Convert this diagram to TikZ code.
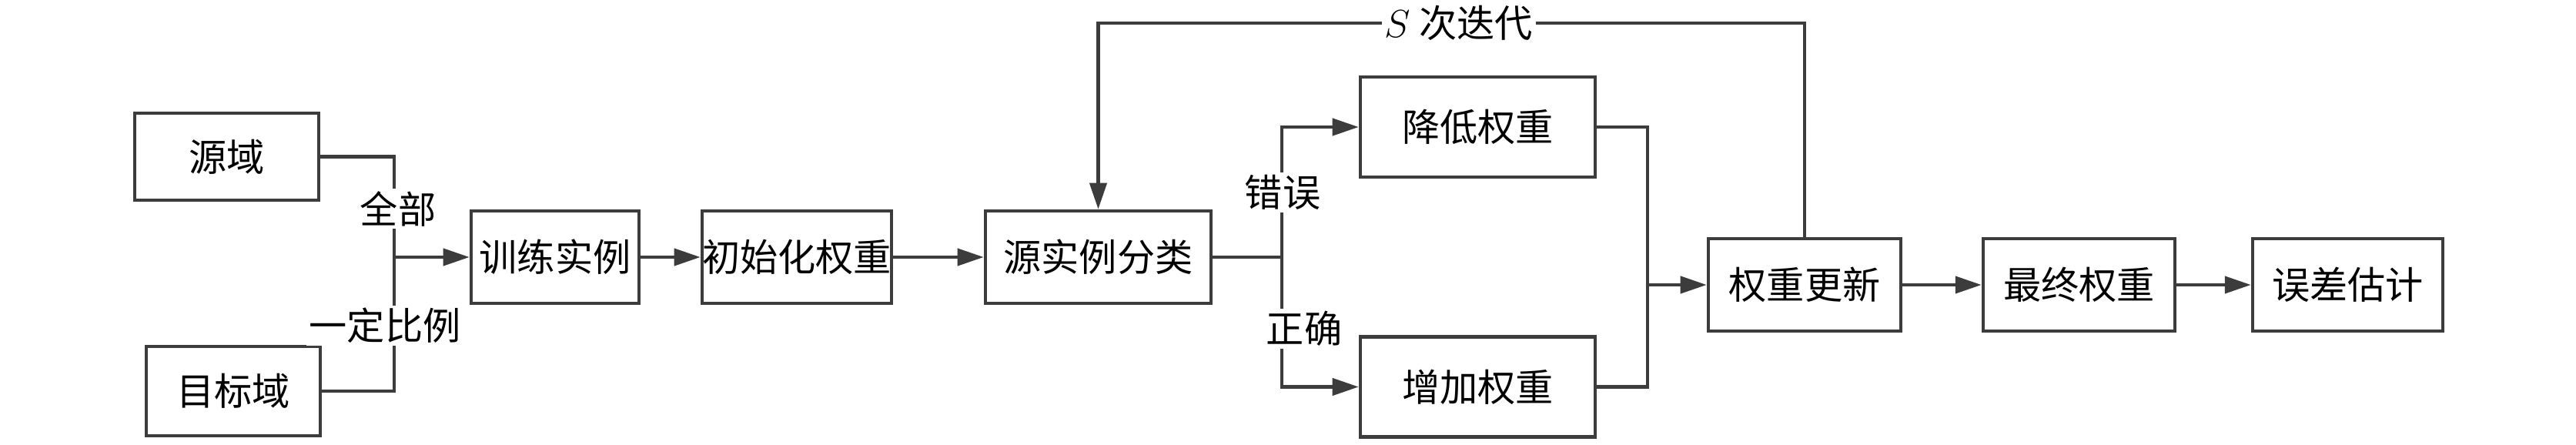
\documentclass[tikz,border=0pt]{standalone}
\usepackage{fontspec}
\newfontfamily\cjk{Noto Sans CJK SC}
\usetikzlibrary{arrows.meta}

\begin{document}
\begin{tikzpicture}[
  box/.style={draw=linegray, line width=1.3pt, minimum height=#1, inner sep=0pt, font=\cjk\fontsize{14}{16}\selectfont},
  box/.default=1.2cm,
  line/.style={draw=linegray, line width=1.2pt},
  arr/.style={line, -{Triangle[length=0.34cm,width=0.22cm]}},
  lbl/.style={fill=white, inner sep=1pt, font=\cjk\fontsize{14}{16}\selectfont}
]
  \definecolor{linegray}{HTML}{3C3C3C}
  \useasboundingbox (0,0) rectangle (33.46,5.77);
  % inputs
  \node[box=1.13cm, minimum width=2.39cm] (src) at (2.945,3.735) {源域};
  \node[box=1.16cm, minimum width=2.26cm] (tgt) at (3.03,0.69) {目标域};
  % main chain
  \node[box, minimum width=2.18cm] (train) at (7.21,2.43) {训练实例};
  \node[box, minimum width=2.44cm] (init) at (10.35,2.43) {初始化权重};
  \node[box, minimum width=2.93cm] (cls) at (14.265,2.43) {源实例分类};
  \node[box=1.3cm, minimum width=3.05cm] (dec) at (19.195,4.12) {降低权重};
  \node[box=1.3cm, minimum width=3.05cm] (inc) at (19.195,0.745) {增加权重};
  \node[box, minimum width=2.5cm] (upd) at (23.44,2.07) {权重更新};
  \node[box, minimum width=2.49cm] (fin) at (27.005,2.07) {最终权重};
  \node[box, minimum width=2.47cm] (err) at (30.495,2.07) {误差估计};
  % junctions
  \coordinate (m1) at (5.12,2.43);
  \coordinate (sp) at (16.65,2.43);
  \coordinate (m2) at (21.4,2.07);
  \coordinate (loop) at (23.44,5.47);

  \draw[line] (src.east) -| (m1);
  \draw[line] (tgt.east) -| (m1);
  \draw[arr] (m1) -- (train.west);
  \node[lbl] (all) at (5.17,3.06) {全部};
  \node[lbl] (part) at (5.0,1.54) {一定比例};
  \draw[arr] (train) -- (init);
  \draw[arr] (init) -- (cls);
  \draw[line] (cls.east) -- (sp);
  \draw[arr] (sp) |- (dec.west);
  \draw[arr] (sp) |- (inc.west);
  \node[lbl] (wrong) at (16.66,3.27) {错误};
  \node[lbl] (right) at (16.94,1.5) {正确};
  \draw[line] (dec.east) -| (m2);
  \draw[line] (inc.east) -| (m2);
  \draw[arr] (m2) -- (upd.west);
  \draw[arr] (upd.north) -- (loop) -| (cls.north);
  \node[lbl] (iter) at (18.95,5.47) {$S$ 次迭代};
  \draw[arr] (upd) -- (fin);
  \draw[arr] (fin) -- (err);
\end{tikzpicture}
\end{document}
